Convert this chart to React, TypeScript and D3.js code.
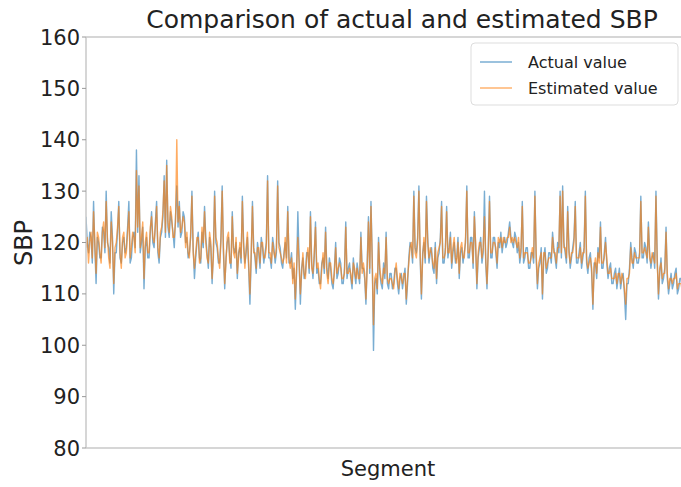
import React from 'react';
import * as d3 from 'd3';

// values, one per segment step
const actual = [
  125, 120, 118, 122, 121, 116, 128, 119, 112, 121, 120, 117, 117, 123, 122, 118, 130, 120, 119, 116,
  126, 121, 110, 118, 118, 122, 128, 117, 116, 120, 121, 118, 119, 123, 128, 116, 117, 121, 122, 119,
  138, 122, 133, 118, 120, 123, 111, 119, 121, 117, 117, 122, 126, 120, 119, 124, 128, 118, 116, 121,
  122, 125, 133, 121, 136, 123, 121, 126, 124, 122, 119, 125, 131, 123, 128, 121, 122, 126, 125, 120,
  121, 117, 118, 121, 130, 119, 113, 117, 120, 122, 117, 116, 122, 119, 127, 121, 118, 115, 121, 119,
  112, 118, 130, 120, 119, 116, 116, 121, 131, 118, 111, 117, 120, 121, 117, 115, 126, 119, 118, 120,
  113, 118, 119, 116, 129, 120, 116, 118, 121, 115, 108, 117, 128, 119, 117, 114, 120, 118, 115, 121,
  119, 116, 118, 120, 133, 117, 117, 115, 121, 119, 116, 118, 132, 120, 119, 116, 115, 118, 120, 117,
  127, 116, 116, 118, 113, 115, 107, 114, 126, 117, 108, 115, 117, 113, 114, 118, 118, 114, 126, 116,
  113, 117, 124, 114, 115, 112, 112, 116, 117, 114, 123, 115, 113, 117, 115, 112, 111, 115, 120, 113,
  114, 117, 116, 112, 112, 115, 124, 113, 115, 116, 113, 111, 117, 114, 112, 116, 114, 112, 122, 115,
  115, 113, 108, 116, 125, 114, 128, 117, 99, 112, 113, 110, 121, 114, 112, 111, 116, 113, 122, 112,
  111, 114, 114, 111, 112, 115, 115, 112, 110, 113, 114, 111, 113, 115, 108, 112, 117, 120, 119, 116,
  130, 119, 118, 121, 131, 117, 109, 118, 120, 116, 129, 121, 116, 118, 119, 115, 114, 120, 112, 117,
  118, 121, 128, 116, 116, 119, 127, 117, 119, 122, 115, 118, 120, 116, 117, 121, 113, 118, 119, 116,
  118, 120, 131, 117, 117, 121, 121, 115, 126, 119, 111, 117, 119, 121, 116, 118, 130, 116, 111, 119,
  129, 117, 117, 121, 121, 118, 115, 120, 119, 122, 118, 120, 121, 119, 120, 122, 124, 121, 120, 119,
  122, 121, 118, 120, 116, 118, 128, 116, 117, 119, 119, 115, 115, 118, 118, 116, 130, 117, 111, 115,
  116, 119, 109, 117, 119, 114, 115, 118, 118, 116, 122, 119, 117, 115, 120, 118, 130, 117, 131, 120,
  118, 116, 127, 119, 115, 117, 119, 121, 128, 116, 116, 118, 120, 115, 117, 119, 130, 116, 114, 117,
  118, 114, 107, 116, 116, 113, 119, 117, 124, 115, 115, 118, 121, 116, 113, 115, 116, 112, 112, 114,
  115, 111, 113, 115, 111, 113, 114, 110, 105, 112, 112, 115, 120, 117, 115, 119, 118, 116, 116, 118,
  129, 117, 117, 120, 119, 116, 124, 118, 115, 117, 118, 115, 130, 117, 109, 114, 117, 112, 113, 115,
  123, 113, 110, 112, 114, 111, 112, 114, 115, 110, 111, 113, 113, 109, 110, 112, 112, 110, 111, 112,
];

const estimated = [
  119, 121, 116, 120, 122, 117, 126, 120, 114, 122, 121, 118, 116, 122, 124, 119, 128, 121, 117, 115,
  124, 120, 112, 119, 120, 123, 127, 118, 115, 121, 122, 117, 118, 122, 126, 117, 119, 122, 121, 118,
  134, 123, 131, 119, 121, 124, 113, 120, 122, 118, 118, 123, 125, 121, 120, 123, 127, 119, 117, 122,
  123, 126, 132, 122, 135, 124, 122, 127, 125, 121, 121, 124, 140, 124, 127, 122, 123, 125, 124, 119,
  122, 118, 117, 122, 129, 118, 115, 118, 121, 121, 116, 117, 123, 120, 126, 120, 117, 116, 122, 120,
  113, 117, 129, 121, 120, 117, 115, 120, 130, 119, 112, 116, 121, 122, 116, 116, 125, 118, 117, 121,
  114, 117, 120, 117, 128, 119, 115, 119, 122, 116, 110, 118, 127, 118, 118, 115, 119, 119, 116, 120,
  120, 117, 117, 119, 132, 118, 118, 116, 120, 118, 117, 119, 131, 119, 118, 117, 116, 117, 121, 116,
  126, 117, 115, 117, 112, 116, 109, 115, 121, 116, 110, 114, 118, 114, 113, 117, 119, 115, 125, 115,
  114, 118, 123, 115, 116, 113, 111, 115, 118, 115, 122, 114, 112, 116, 116, 113, 112, 114, 119, 114,
  115, 116, 115, 113, 113, 114, 123, 114, 114, 115, 114, 112, 116, 115, 113, 115, 113, 113, 121, 114,
  116, 114, 109, 115, 124, 115, 127, 116, 104, 113, 114, 111, 120, 115, 113, 112, 115, 114, 121, 113,
  112, 113, 113, 112, 111, 114, 116, 113, 111, 114, 113, 112, 114, 114, 109, 113, 116, 119, 120, 117,
  129, 118, 117, 120, 130, 118, 110, 117, 121, 117, 128, 120, 117, 119, 118, 116, 115, 119, 113, 118,
  119, 120, 127, 117, 117, 118, 126, 118, 118, 121, 116, 119, 121, 117, 116, 120, 114, 119, 120, 117,
  117, 121, 130, 118, 118, 120, 120, 116, 125, 120, 112, 118, 120, 120, 117, 119, 125, 117, 112, 118,
  128, 118, 118, 120, 120, 119, 116, 121, 120, 121, 119, 121, 120, 120, 121, 121, 123, 120, 121, 120,
  121, 120, 119, 121, 117, 119, 127, 117, 118, 118, 118, 116, 116, 117, 119, 117, 129, 118, 112, 116,
  117, 118, 110, 118, 118, 115, 116, 117, 117, 117, 121, 118, 118, 116, 119, 119, 129, 118, 130, 119,
  119, 117, 126, 118, 116, 118, 118, 120, 127, 117, 117, 117, 119, 116, 118, 118, 129, 117, 115, 116,
  117, 115, 108, 115, 117, 114, 118, 116, 123, 116, 116, 117, 120, 117, 114, 114, 115, 113, 113, 113,
  114, 112, 114, 114, 112, 114, 113, 111, 108, 113, 113, 114, 119, 116, 116, 118, 117, 117, 117, 117,
  128, 118, 118, 119, 118, 117, 123, 117, 116, 118, 117, 116, 129, 116, 110, 115, 116, 113, 114, 114,
  122, 114, 111, 113, 113, 112, 113, 113, 114, 111, 112, 112, 112, 110, 111, 111, 111, 111, 110, 111,
];

const yTicks = [80, 90, 100, 110, 120, 130, 140, 150, 160];
const legendLabels = ['Actual value', 'Estimated value'];
const colors = ['#1f77b4', '#ff7f0e'];

const W = 681;
const H = 487;
const left = 86;
const right = 690;
const top = 37;
const bottom = 448;
const font = 'DejaVu Sans, sans-serif';

export default function App() {
  const x = d3.scaleLinear().domain([0, actual.length - 1]).range([left, right]);
  const y = d3.scaleLinear().domain([80, 160]).range([bottom, top]);
  const line = d3.line<number>().x((d, i) => x(i)).y(d => y(d));

  return (
    <svg width={W} height={H} style={{ position: 'absolute', left: 0, top: 0, background: '#fff' }}>
      <rect width={W} height={H} fill="#fff" />
      <defs>
        <clipPath id="plot">
          <rect x={left} y={top} width={right - left} height={bottom - top} />
        </clipPath>
      </defs>

      <g clipPath="url(#plot)">
        <path d={line(actual) || ''} fill="none" stroke={colors[0]} strokeOpacity={0.6} strokeWidth={1.4} strokeLinejoin="round" />
        <path d={line(estimated) || ''} fill="none" stroke={colors[1]} strokeOpacity={0.65} strokeWidth={1.4} strokeLinejoin="round" />
      </g>

      {/* spines */}
      <line x1={left} x2={left} y1={top} y2={bottom} stroke="#c8c8c8" strokeWidth={1.5} />
      <line x1={left} x2={right} y1={bottom} y2={bottom} stroke="#c8c8c8" strokeWidth={1.5} />
      <line x1={left} x2={right} y1={top} y2={top} stroke="#c8c8c8" strokeWidth={1.5} />

      {yTicks.map(t => (
        <g key={t}>
          <line x1={left - 4} x2={left} y1={y(t)} y2={y(t)} stroke="#999" strokeWidth={1} />
          <text x={left - 6} y={y(t)} dy="0.36em" textAnchor="end" fontFamily={font} fontSize={21} fill="#222">
            {t}
          </text>
        </g>
      ))}

      <text x={402} y={28} textAnchor="middle" fontFamily={font} fontSize={25} fill="#222">
        Comparison of actual and estimated SBP
      </text>
      <text x={388} y={476} textAnchor="middle" fontFamily={font} fontSize={21} fill="#222">
        Segment
      </text>
      <text transform={`translate(32, 243) rotate(-90)`} textAnchor="middle" fontFamily={font} fontSize={24} fill="#222">
        SBP
      </text>

      {/* legend */}
      <rect x={471} y={43} width={207} height={62} rx={4} fill="#fff" fillOpacity={0.85} stroke="#ddd" />
      {legendLabels.map((l, i) => (
        <g key={l}>
          <line x1={480} x2={512} y1={62 + i * 26} y2={62 + i * 26} stroke={colors[i]} strokeOpacity={0.6} strokeWidth={1.5} />
          <text x={528} y={62 + i * 26} dy="0.36em" fontFamily={font} fontSize={16} fill="#222">
            {l}
          </text>
        </g>
      ))}
    </svg>
  );
}
